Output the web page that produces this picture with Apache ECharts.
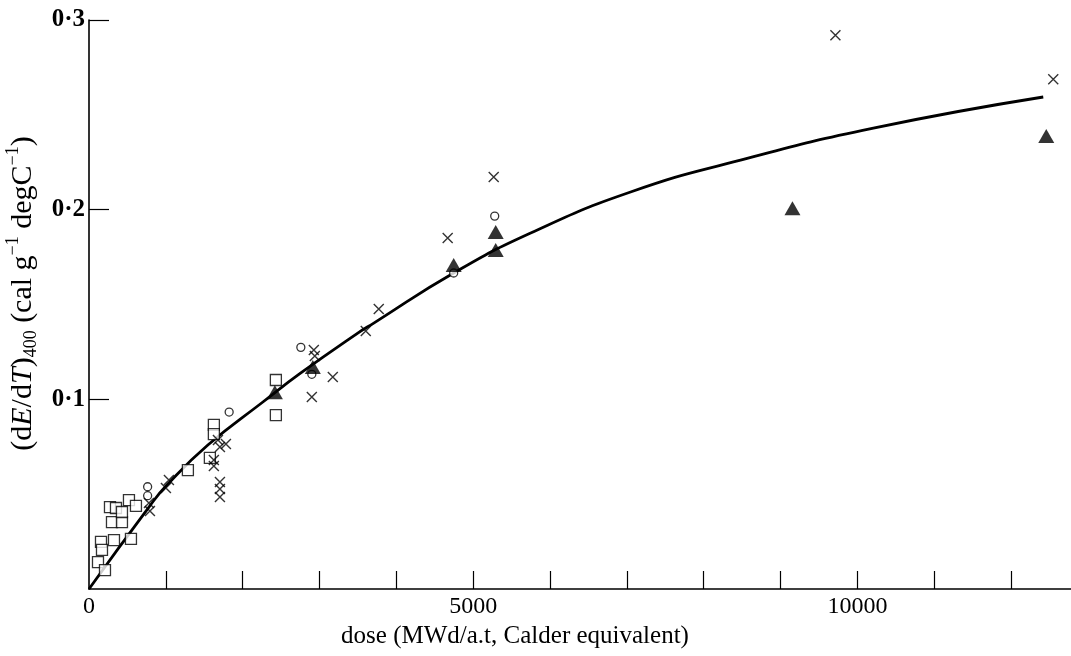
<!DOCTYPE html>
<html><head><meta charset="utf-8">
<script src="https://cdn.jsdelivr.net/npm/echarts@6/dist/echarts.min.js"></script>
<style>html,body{margin:0;padding:0;background:#fff}#c{width:1071px;height:656px}</style>
</head><body><div id="c"></div>
<script>
// fitted curve
const curveDose  = [0, 780, 1014, 1547, 2263, 2757, 3498, 3706, 4746, 5748, 7048, 8479, 10208, 12419];
const curveValue = [0, 0.0432, 0.0548, 0.0759, 0.0986, 0.1139, 0.1349, 0.1402, 0.1666, 0.1877, 0.2093, 0.2261, 0.2430, 0.2594];

// crosses
const crossDose  = [780, 793, 1040, 1001, 1678, 1782, 1704, 1625, 1625, 1704, 1704, 1704, 2926, 2939, 3173, 2900, 3602, 3771, 4668, 5267, 9714, 12549];
const crossValue = [0.0453, 0.0411, 0.0575, 0.0532, 0.0785, 0.0764, 0.0749, 0.0680, 0.0648, 0.0564, 0.0527, 0.0485, 0.1260, 0.1228, 0.1118, 0.1012, 0.1360, 0.1476, 0.1850, 0.2172, 0.2920, 0.2688];

// circles
const circleDose  = [763, 763, 1824, 2757, 2900, 4746, 5280];
const circleValue = [0.0539, 0.0492, 0.0933, 0.1274, 0.1132, 0.1666, 0.1966];

// squares
const squareDose  = [156, 169, 117, 208, 325, 546, 299, 429, 273, 351, 429, 520, 611, 1287, 1625, 1625, 1573, 2432, 2432];
const squareValue = [0.0248, 0.0206, 0.0142, 0.0100, 0.0258, 0.0264, 0.0353, 0.0353, 0.0432, 0.0427, 0.0406, 0.0469, 0.0438, 0.0627, 0.0865, 0.0817, 0.0691, 0.1102, 0.0917];

// filled triangles
const triDose  = [2419, 2913, 4746, 5293, 5293, 9155, 12458];
const triValue = [0.1038, 0.1170, 0.1708, 0.1882, 0.1787, 0.2008, 0.2388];

// ticks
const xTickValues  = [1000, 2000, 3000, 4000, 5000, 6000, 7000, 8000, 9000, 10000, 11000, 12000];
const xLabelValues = [0, 5000, 10000];
const yTickValues  = [0.1, 0.2, 0.3];
const yLabelValues = [0.1, 0.2, 0.3];

const zip = (a, b) => a.map((v, i) => [v, b[i]]);
const serif = '"Liberation Serif", "DejaVu Serif", serif';

const chart = echarts.init(document.getElementById('c'), null, {renderer: 'canvas'});
chart.setOption({
  animation: false,
  backgroundColor: '#fff',
  grid: {left: 89, right: 0, top: 20, bottom: 67, containLabel: false, outerBoundsMode: 'none'},
  xAxis: {
    type: 'value', min: 0, max: 12780,
    axisLine: {show: true, onZero: false, lineStyle: {color: '#000', width: 1.6}},
    axisTick: {show: true, inside: true, length: 18, customValues: xTickValues, lineStyle: {color: '#000', width: 1.2}},
    axisLabel: {customValues: xLabelValues, color: '#000', fontFamily: serif, fontSize: 24, margin: 6,
      formatter: v => String(v)},
    splitLine: {show: false},
    name: 'dose (MWd/a.t, Calder equivalent)',
    nameLocation: 'middle', nameGap: 34,
    nameTextStyle: {color: '#000', fontFamily: serif, fontSize: 25, padding: [0, 130, 0, 0]}
  },
  yAxis: {
    type: 'value', min: 0, max: 0.3,
    axisLine: {show: true, onZero: false, lineStyle: {color: '#000', width: 1.6}},
    axisTick: {show: true, inside: true, length: 20, customValues: yTickValues, lineStyle: {color: '#000', width: 1.2}},
    axisLabel: {customValues: yLabelValues, color: '#000', fontFamily: serif, fontSize: 25, fontWeight: 'bold', margin: 4,
      formatter: v => v.toFixed(1).replace('.', '·')},
    splitLine: {show: false},
    name: '(d{i|E}/d{i|T}){sub|400} (cal g{sup|−1} degC{sup|−1})',
    nameLocation: 'middle', nameRotate: 90, nameGap: 23,
    nameTextStyle: {color: '#000', fontFamily: serif, fontSize: 30, lineHeight: 36, padding: [0, 0, 0, 22],
      rich: {
        i: {fontFamily: serif, fontSize: 30, fontStyle: 'italic', color: '#000', lineHeight: 36},
        sub: {fontFamily: serif, fontSize: 18, color: '#000', verticalAlign: 'bottom', lineHeight: 36},
        sup: {fontFamily: serif, fontSize: 18, color: '#000', verticalAlign: 'top', lineHeight: 36}
      }}
  },
  series: [
    {type: 'line', data: zip(curveDose, curveValue), smooth: true, showSymbol: false, symbol: 'none',
      lineStyle: {color: '#000', width: 2.8}, z: 1, silent: true},
    {type: 'scatter', data: zip(squareDose, squareValue), symbol: 'rect', symbolSize: 11,
      itemStyle: {color: '#fff', borderColor: '#000', borderWidth: 1.3}, z: 3},
    {type: 'scatter', data: zip(circleDose, circleValue), symbol: 'circle', symbolSize: 8,
      itemStyle: {color: '#fff', borderColor: '#000', borderWidth: 1.3}, z: 4},
    {type: 'scatter', data: zip(triDose, triValue), symbol: 'triangle', symbolSize: [16, 14],
      itemStyle: {color: '#000'}, z: 5},
    {type: 'scatter', data: zip(crossDose, crossValue), symbol: 'path://M0,0L10,10M10,0L0,10', symbolSize: 10,
      itemStyle: {color: 'rgba(0,0,0,0)', borderColor: '#000', borderWidth: 1.4}, z: 6}
  ]
});
</script>
</body></html>
